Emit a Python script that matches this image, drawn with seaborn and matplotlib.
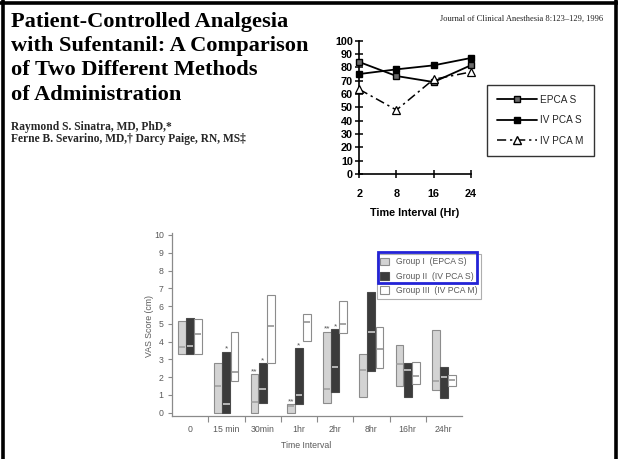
import numpy as np
import pandas as pd
import seaborn as sns
import matplotlib.pyplot as plt
from matplotlib.patches import Rectangle, Patch
from matplotlib.lines import Line2D

# ---------------- line chart: patient satisfaction (%) by hour ----------------
hours = ["2", "8", "16", "24"]
epca_s = [84, 73.5, 69, 81.5]
iv_pca_s = [75, 78.5, 81.5, 87]
iv_pca_m = [63.5, 48, 71, 76.5]
pct_ticks = [0, 10, 20, 30, 40, 50, 60, 70, 80, 90, 100]

# ---------------- VAS score ranges (low / median / high) ----------------
intervals = ["0", "15 min", "30min", "1hr", "2hr", "8hr", "16hr", "24hr"]
g1_low = [3.3, 0.0, 0.0, 0.0, 0.53, 0.88, 1.5, 1.26]
g1_med = [3.7, 1.48, 0.6, 0.37, 1.33, 2.42, 2.73, 1.76]
g1_high = [5.15, 2.78, 2.18, 0.49, 4.56, 3.3, 3.8, 4.63]
g2_low = [3.3, 0.0, 0.56, 0.47, 1.18, 2.36, 0.9, 0.81]
g2_med = [3.78, 0.52, 1.35, 1.0, 2.59, 4.56, 2.4, 1.99]
g2_high = [5.35, 3.44, 2.78, 3.62, 4.7, 6.79, 2.81, 2.59]
g3_low = [3.3, 1.78, 2.78, 4.05, 4.47, 2.5, 1.62, 1.48]
g3_med = [4.45, 2.28, 4.9, 5.12, 4.99, 3.56, 2.06, 1.85]
g3_high = [5.3, 4.54, 6.62, 5.55, 6.3, 4.8, 2.83, 2.14]
vas_ticks = [0, 1, 2, 3, 4, 5, 6, 7, 8, 9, 10]
group_labels = ["Group I  (EPCA S)", "Group II  (IV PCA S)", "Group III  (IV PCA M)"]
# significance marks: (interval index, group index, mark)
sig_marks = [(1, 1, "*"), (2, 0, "**"), (2, 1, "*"), (3, 0, "**"),
             (3, 1, "*"), (4, 0, "**"), (4, 1, "*")]

sns.set_theme(style="white")
plt.rcParams["font.family"] = ["Liberation Sans", "DejaVu Sans"]

W, H = 618, 459
fig = plt.figure(figsize=(W / 100, H / 100), dpi=100)
fig.patch.set_facecolor("white")


def fx(px):
    return px / W


def fy(py):
    return 1 - py / H


# ---------------- page frame ----------------
for (x0, y0, x1, y1) in [(3, 0, 3, 459), (0, 2.8, 618, 2.8), (615.5, 0, 615.5, 459)]:
    fig.add_artist(Line2D([fx(x0), fx(x1)], [fy(y0), fy(y1)], color="black",
                          lw=2.6, transform=fig.transFigure))

# ---------------- article heading ----------------
serif = ["Liberation Serif", "DejaVu Serif"]
title_lines = ["Patient-Controlled Analgesia", "with Sufentanil: A Comparison",
               "of Two Different Methods", "of Administration"]
for i, line in enumerate(title_lines):
    fig.text(fx(11), fy(27 + i * 24.2), line, family=serif, weight="bold",
             fontsize=16.1, va="baseline", ha="left", color="black")
fig.text(fx(11), fy(130), "Raymond S. Sinatra, MD, PhD,*", family=serif,
         weight="bold", fontsize=8.3, va="baseline", ha="left")
fig.text(fx(11), fy(142), "Ferne B. Sevarino, MD,\u2020 Darcy Paige, RN, MS\u2021",
         family=serif, weight="bold", fontsize=8.3, va="baseline", ha="left")
fig.text(fx(603), fy(21), "Journal of Clinical Anesthesia 8:123\u2013129, 1996",
         family=serif, fontsize=6.1, va="baseline", ha="right", color="#222222")

# ---------------- line chart ----------------
ax1 = fig.add_axes([fx(359.3), fy(174), (470.7 - 359.3) / W, (174 - 40.7) / H])
xpos = np.arange(len(hours))
sns.lineplot(x=xpos, y=epca_s, ax=ax1, color="black", lw=1.3, marker="s",
             markersize=5, markerfacecolor="#6a6a6a", markeredgecolor="black",
             markeredgewidth=1.0, legend=False, clip_on=False, zorder=4)
sns.lineplot(x=xpos, y=iv_pca_s, ax=ax1, color="black", lw=1.3, marker="s",
             markersize=5, markerfacecolor="black", markeredgecolor="black",
             markeredgewidth=1.0, legend=False, clip_on=False, zorder=4)
sns.lineplot(x=xpos, y=iv_pca_m, ax=ax1, color="black", lw=1.1, marker="^",
             markersize=5.5, markerfacecolor="white", markeredgecolor="black",
             markeredgewidth=0.9, linestyle=(0, (6, 2.5, 1.5, 2.5)),
             legend=False, clip_on=False, zorder=4)
ax1.set_xlim(0, len(hours) - 1)
ax1.set_ylim(0, 100)
ax1.set_xticks(xpos)
ax1.set_xticklabels(hours)
ax1.set_yticks(pct_ticks)
ax1.set_xlabel("")
ax1.set_ylabel("")
for s in ["top", "right"]:
    ax1.spines[s].set_visible(False)
for s in ["left", "bottom"]:
    ax1.spines[s].set_color("black")
    ax1.spines[s].set_linewidth(1.2)
ax1.patch.set_alpha(0)
ax1.tick_params(axis="both", direction="inout", length=6, width=1.1,
                color="black", labelsize=7.8, labelcolor="black")
ax1.tick_params(axis="x", pad=8)
ax1.tick_params(axis="y", pad=1.5)
ax1.tick_params(bottom=True, left=True)
for lab in ax1.get_xticklabels() + ax1.get_yticklabels():
    lab.set_fontweight("bold")
fig.text(fx(415), fy(213), "Time Interval (Hr)", ha="center", va="center",
         fontsize=7.8, weight="bold", color="black")

leg_handles = [
    Line2D([], [], color="black", lw=1.3, marker="s", markersize=5,
           markerfacecolor="#6a6a6a", markeredgecolor="black"),
    Line2D([], [], color="black", lw=1.3, marker="s", markersize=5,
           markerfacecolor="black", markeredgecolor="black"),
    Line2D([], [], color="black", lw=1.1, marker="^", markersize=5.5,
           markerfacecolor="white", markeredgecolor="black",
           linestyle=(0, (6, 2.5, 1.5, 2.5))),
]
leg1 = fig.legend(leg_handles, ["EPCA S", "IV PCA S", "IV PCA M"],
                  loc="upper left", bbox_to_anchor=(fx(487), fy(85)),
                  frameon=True, fancybox=False, edgecolor="black",
                  fontsize=7.2, handlelength=4.0, handletextpad=0.3,
                  labelspacing=1.05, borderpad=1.0, borderaxespad=0)
leg1.get_frame().set_linewidth(1.0)

# ---------------- VAS range bars ----------------
ax2 = fig.add_axes([fx(172), fy(416.3), 290 / W, (416.3 - 233.2) / H])
ax2.patch.set_alpha(0)
fills = ["#d3d3d3", "#3b3b3b", "white"]
edges = ["#8c8c8c", "#4a4a4a", "#8c8c8c"]
med_cols = ["#9d9d9d", "#d8d8d8", "#8c8c8c"]
lows = [g1_low, g2_low, g3_low]
meds = [g1_med, g2_med, g3_med]
highs = [g1_high, g2_high, g3_high]
bw = 0.215
offs = [-0.225, 0.0, 0.225]
cx = np.arange(len(intervals))
for g in range(3):
    lo = np.array(lows[g])
    hi = np.array(highs[g])
    ax2.bar(cx + offs[g], hi - lo, bottom=lo, width=bw, color=fills[g],
            edgecolor=edges[g], linewidth=0.8, zorder=2)
    ax2.hlines(meds[g], cx + offs[g] - bw / 2 + 0.02, cx + offs[g] + bw / 2 - 0.02,
               color=med_cols[g], lw=1.1, zorder=3)
for (i, g, mark) in sig_marks:
    ax2.text(i + offs[g], highs[g][i] + 0.06, mark, ha="center", va="baseline",
             fontsize=6, color="#555555")

ax2.set_xlim(-0.5, len(intervals) - 0.5)
ax2.set_ylim(-0.2, 10.1)
ax2.set_yticks(vas_ticks)
ax2.set_xticks(cx)
ax2.set_xticklabels(intervals)
ax2.set_xticks(np.arange(0.5, len(intervals) - 1), minor=True)
for s in ["top", "right"]:
    ax2.spines[s].set_visible(False)
for s in ["left", "bottom"]:
    ax2.spines[s].set_color("#8a8a8a")
    ax2.spines[s].set_linewidth(0.9)
ax2.tick_params(axis="y", which="major", direction="out", length=3, width=0.8,
                color="#8a8a8a", labelsize=6.3, labelcolor="#5a5a5a", pad=3, left=True)
ax2.tick_params(axis="x", which="major", length=0, labelsize=6.3,
                labelcolor="#5a5a5a", pad=6)
ax2.tick_params(axis="x", which="minor", direction="out", length=4, width=0.8,
                color="#8a8a8a", bottom=True)
fig.text(fx(306), fy(446), "Time Interval", ha="center", va="center",
         fontsize=6.3, color="#5a5a5a")
fig.text(fx(149), fy(326), "VAS Score (cm)", ha="center", va="center",
         rotation=90, fontsize=6.3, color="#5a5a5a")

leg2_handles = [Patch(facecolor=fills[g], edgecolor=edges[g], linewidth=0.8)
                for g in range(3)]
leg2 = fig.legend(leg2_handles, group_labels, loc="upper left",
                  bbox_to_anchor=(fx(377), fy(254)), frameon=True, fancybox=False,
                  edgecolor="#9a9a9a", fontsize=6.2, handlelength=1.0,
                  handleheight=1.0, handletextpad=0.8, labelspacing=0.62,
                  borderpad=0.4, borderaxespad=0)
leg2.get_frame().set_linewidth(0.8)
for t in leg2.get_texts():
    t.set_color("#5a5a5a")
fig.add_artist(Rectangle((fx(378), fy(283)), (477 - 378) / W, (283 - 252) / H,
                         transform=fig.transFigure, fill=False,
                         edgecolor="#2323d6", lw=2.0, zorder=10))

fig.savefig("out.png", dpi=100, facecolor="white")
